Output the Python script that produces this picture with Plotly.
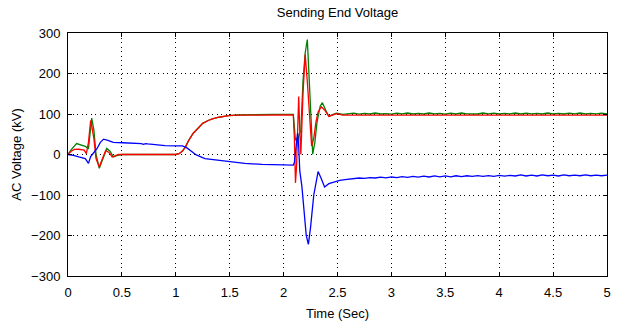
import plotly.graph_objects as go

# Phase voltages at the sending end (kV) versus time (s)
t_red = [0, 0.03, 0.06, 0.10, 0.15, 0.17, 0.19, 0.21, 0.22, 0.24, 0.26, 0.29, 0.32, 0.35,
         0.38, 0.41, 0.44, 0.47, 0.60, 0.80, 1.00, 1.03, 1.06, 1.09, 1.12, 1.16, 1.20, 1.25,
         1.30, 1.34, 1.40, 1.49, 1.58, 1.70, 1.90, 2.09, 2.10, 2.11, 2.12, 2.14, 2.15, 2.16,
         2.18, 2.20, 2.22, 2.24, 2.26, 2.28, 2.30, 2.32, 2.35, 2.38, 2.42, 2.46, 2.49, 2.55,
         2.70, 3.00, 3.50, 4.00, 4.50, 5.00]
v_red = [0, 8, 12.5, 13, 11, 2, 30, 84, 70, 40, -10, -31, -10, 10,
         5, -6, -3, 0, 0, 0, 0, 2, 8, 19, 35, 52, 63, 77,
         84, 88, 92, 96, 97, 97.5, 98, 98, 40, -70, -30, 143, 60, 0,
         150, 247, 180, 90, 21, 40, 80, 105, 118, 110, 94, 98, 101, 97,
         97, 97, 97, 97, 97, 97]

t_green = [0, 0.03, 0.08, 0.12, 0.16, 0.19, 0.22, 0.24, 0.26, 0.29, 0.32, 0.36, 0.39, 0.42,
           0.46, 0.50, 0.80, 1.00, 1.03, 1.06, 1.09, 1.12, 1.16, 1.20, 1.25, 1.30, 1.34, 1.40,
           1.49, 1.58, 1.70, 1.90, 2.09, 2.10, 2.11, 2.12, 2.13, 2.14, 2.16, 2.18, 2.20, 2.22,
           2.24, 2.26, 2.27, 2.29, 2.31, 2.34, 2.36, 2.39, 2.42, 2.46, 2.49, 2.55,
           2.60, 2.65, 2.70, 2.75, 2.80, 2.85, 2.90, 2.95, 3.00, 3.05, 3.10, 3.15, 3.20, 3.25,
           3.30, 3.35, 3.40, 3.45, 3.50, 3.55, 3.60, 3.65, 3.70, 3.75, 3.80, 3.85, 3.90, 3.95,
           4.00, 4.05, 4.10, 4.15, 4.20, 4.25, 4.30, 4.35, 4.40, 4.45, 4.50, 4.55, 4.60, 4.65,
           4.70, 4.75, 4.80, 4.85, 4.90, 4.95, 5.00]
v_green = [0, 12, 27, 24, 20, 15, 90, 60, 0, -34, -15, 15, 8, -6,
           -2, 0, 0, 0, 2, 8, 19, 35, 52, 63, 77, 84, 88, 92,
           96, 97.5, 98.5, 99, 99, 55, 35, 40, 30, 45, 60, 180, 250, 284,
           180, 50, 1, 30, 80, 120, 128, 110, 94, 99, 102, 99,
           100, 102, 99.5, 101.5, 100, 102.5, 100, 101, 99.5, 102, 100.5, 102.5, 100, 101.5,
           100, 102.5, 100.5, 101.5, 99.5, 102, 100, 102.5, 100.5, 101, 100, 102.5, 100.5, 102,
           100, 101.5, 100.5, 102.5, 100, 102, 100.5, 101.5, 100, 102.5, 100.5, 101.5, 100, 102,
           100.5, 102.5, 100, 101.5, 100.5, 102, 100.5]

t_blue = [0, 0.05, 0.10, 0.16, 0.19, 0.21, 0.24, 0.27, 0.30, 0.33, 0.37, 0.42, 0.51, 0.60,
          0.68, 0.70, 0.72, 0.74, 0.80, 0.90, 1.00, 1.06, 1.10, 1.13, 1.19, 1.27, 1.38, 1.50,
          1.64, 1.80, 2.00, 2.09, 2.10, 2.11, 2.12, 2.13, 2.14, 2.15, 2.17, 2.19, 2.21, 2.23,
          2.25, 2.28, 2.32, 2.35, 2.38, 2.42, 2.47, 2.52, 2.57,
          2.60, 2.65, 2.70, 2.75, 2.80, 2.85, 2.90, 2.95, 3.00, 3.05, 3.10, 3.15, 3.20, 3.25,
          3.30, 3.35, 3.40, 3.45, 3.50, 3.55, 3.60, 3.65, 3.70, 3.75, 3.80, 3.85, 3.90, 3.95,
          4.00, 4.05, 4.10, 4.15, 4.20, 4.25, 4.30, 4.35, 4.40, 4.45, 4.50, 4.55, 4.60, 4.65,
          4.70, 4.75, 4.80, 4.85, 4.90, 4.95, 5.00]
v_blue = [0, -2, -6, -10, -22, -5, 5, 15, 30, 38, 35, 30, 29, 28,
          27, 25, 27, 26, 24, 22, 21.5, 21.5, 17, 11, -1, -10, -14, -18,
          -22, -24.5, -25.5, -26, -20, 0, 30, 53, 20, -40, -80, -145, -200, -222,
          -180, -100, -42, -60, -80, -72, -68, -64, -62,
          -61, -59, -58, -59, -57, -58, -56, -57.5, -55.5, -57, -54.5, -56.5, -54, -56,
          -53.5, -55.5, -53, -55, -53, -55, -52.5, -54.5, -52.5, -54, -52, -54, -52, -54,
          -51.5, -53.5, -51.5, -53, -50.5, -53, -51, -53, -50.5, -52.5, -51, -53, -50.5, -52.5,
          -51, -52.5, -50.5, -52.5, -51, -52.5, -51]

font_family = "Liberation Sans Narrow, Arial Narrow, Liberation Sans, Arial, sans-serif"
text_font = dict(family=font_family, size=13, color="black")

fig = go.Figure()
fig.add_trace(go.Scatter(x=t_green, y=v_green, mode="lines",
                         line=dict(color="#008000", width=1.3), name="Phase B"))
fig.add_trace(go.Scatter(x=t_red, y=v_red, mode="lines",
                         line=dict(color="#ff0000", width=1.3), name="Phase A"))
fig.add_trace(go.Scatter(x=t_blue, y=v_blue, mode="lines",
                         line=dict(color="#0000ff", width=1.3), name="Phase C"))

axis_common = dict(
    showline=True, linecolor="black", linewidth=1, mirror="ticks",
    ticks="inside", ticklen=4, tickcolor="black", tickwidth=1,
    showgrid=True, gridcolor="black", gridwidth=1, griddash="1px,3.5px",
    zeroline=False, tickfont=text_font,
)

fig.update_layout(
    width=623, height=326,
    margin=dict(l=68, r=13, t=33, b=50),
    paper_bgcolor="white", plot_bgcolor="white",
    showlegend=False,
    font=text_font,
    title=dict(text="Sending End Voltage", x=0.5, xref="paper", xanchor="center",
               y=1 - 12 / 326, yref="container", yanchor="middle", font=text_font),
    xaxis=dict(range=[0, 5], dtick=0.5, tick0=0, ticklabelstandoff=4, **axis_common),
    yaxis=dict(range=[-300, 300], dtick=100, tick0=0,
               title=dict(text="AC Voltage (kV)", standoff=6, font=text_font),
               ticklabelstandoff=4, **axis_common),
    annotations=[dict(text="Time (Sec)", x=0.5, xref="paper", xanchor="center",
                      y=-0.156, yref="paper", yanchor="middle",
                      showarrow=False, font=text_font)],
)

fig.write_html("out.html")
